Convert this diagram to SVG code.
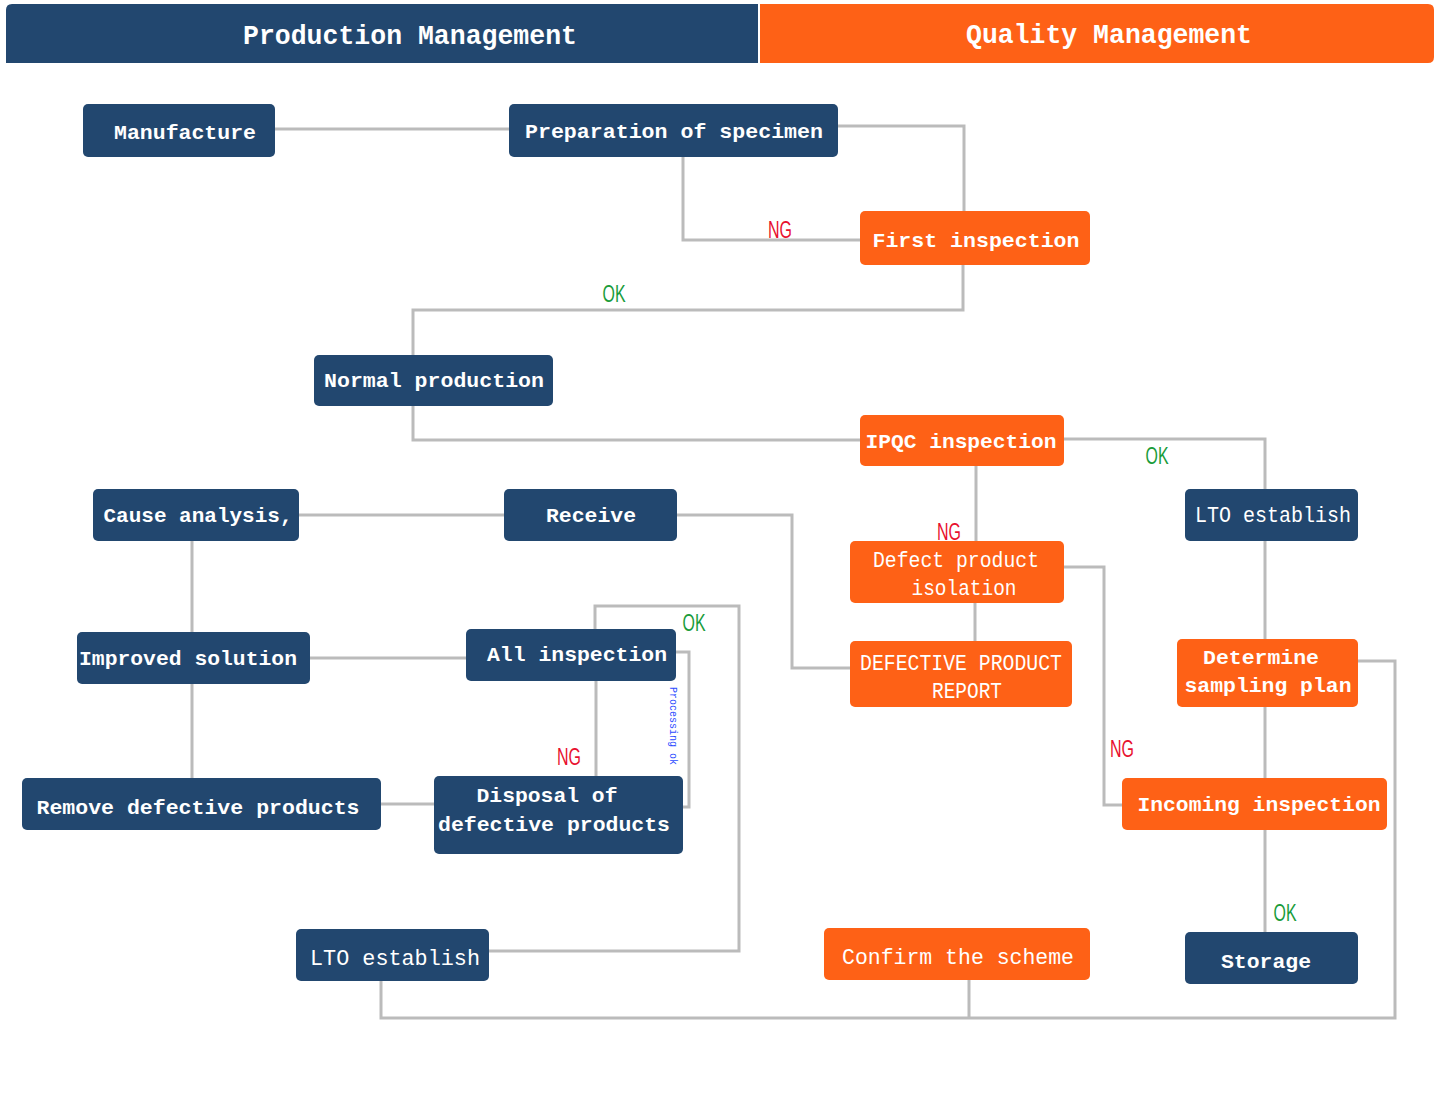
<svg xmlns="http://www.w3.org/2000/svg" width="1440" height="1113" viewBox="0 0 1440 1113">
<style>
.b{fill:#22476F}
.o{fill:#FE6116}
.t{font-family:"Liberation Mono","DejaVu Sans Mono",monospace;font-weight:bold;font-size:21px;fill:#fff;text-anchor:middle}
.n{font-family:"Liberation Mono","DejaVu Sans Mono",monospace;font-size:22px;fill:#fff;text-anchor:middle}
.h{font-family:"Liberation Mono","DejaVu Sans Mono",monospace;font-weight:bold;font-size:27px;fill:#fff;text-anchor:middle}
.c{fill:none;stroke:#BBBBBB;stroke-width:3}
.ng{font-family:"Liberation Sans",Arial,sans-serif;font-size:23px;fill:#E8102E;text-anchor:middle}
.ok{font-family:"Liberation Sans",Arial,sans-serif;font-size:23px;fill:#1A9C3A;text-anchor:middle}
</style>
<rect width="1440" height="1113" fill="#fff"/>
<g id="connectors">
<path class="c" d="M275 129H509"/>
<path class="c" d="M838 126H964V211"/>
<path class="c" d="M683 157V240H860"/>
<path class="c" d="M963 265V310H413V355"/>
<path class="c" d="M413 406V440H860"/>
<path class="c" d="M1064 439H1265V489"/>
<path class="c" d="M976 466V541"/>
<path class="c" d="M975 603V641"/>
<path class="c" d="M1064 567H1104V805H1122"/>
<path class="c" d="M1265 541V639M1265 707V778M1265 830V932"/>
<path class="c" d="M1358 661H1395V1018H381V981"/>
<path class="c" d="M969 980V1018"/>
<path class="c" d="M299 515H504"/>
<path class="c" d="M677 515H792V668H850"/>
<path class="c" d="M192 541V632M192 684V778"/>
<path class="c" d="M310 658H466"/>
<path class="c" d="M595 629V606H739V951H489"/>
<path class="c" d="M676 652H689V807H683"/>
<path class="c" d="M596 681V776"/>
<path class="c" d="M381 804H434"/>
<text class="ng" x="780" y="238" textLength="24" lengthAdjust="spacingAndGlyphs">NG</text>
<text class="ok" x="614" y="302" textLength="23" lengthAdjust="spacingAndGlyphs">OK</text>
<text class="ok" x="1157" y="464" textLength="23" lengthAdjust="spacingAndGlyphs">OK</text>
<text class="ng" x="949" y="540" textLength="24" lengthAdjust="spacingAndGlyphs">NG</text>
<text class="ng" x="1122" y="757" textLength="24" lengthAdjust="spacingAndGlyphs">NG</text>
<text class="ok" x="1285" y="921" textLength="23" lengthAdjust="spacingAndGlyphs">OK</text>
<text class="ok" x="694" y="631" textLength="23" lengthAdjust="spacingAndGlyphs">OK</text>
<text class="ng" x="569" y="765" textLength="24" lengthAdjust="spacingAndGlyphs">NG</text>
<text x="673" y="726" transform="rotate(90 673 726)" font-family="Liberation Mono,monospace" font-size="10" fill="#2B4BFF" text-anchor="middle" dominant-baseline="middle" textLength="78" lengthAdjust="spacingAndGlyphs">Processing ok</text>
</g>
<g id="header-production">
<path class="b" d="M12 4H758V63H6V10Q6 4 12 4Z"/>
<text class="h" x="410" y="44" textLength="334" lengthAdjust="spacingAndGlyphs">Production Management</text>
</g>
<g id="header-quality">
<path class="o" d="M760 4H1428Q1434 4 1434 10V57Q1434 63 1428 63H760Z"/>
<text class="h" x="1109" y="43" textLength="286" lengthAdjust="spacingAndGlyphs">Quality Management</text>
</g>
<g id="manufacture"><rect class="b" x="83" y="104" width="192" height="53" rx="5"/><text class="t" x="185" y="139" textLength="142" lengthAdjust="spacingAndGlyphs">Manufacture</text></g>
<g id="preparation"><rect class="b" x="509" y="104" width="329" height="53" rx="5"/><text class="t" x="674" y="138" textLength="298" lengthAdjust="spacingAndGlyphs">Preparation of specimen</text></g>
<g id="first-inspection"><rect class="o" x="860" y="211" width="230" height="54" rx="5"/><text class="t" x="976" y="247" textLength="207" lengthAdjust="spacingAndGlyphs">First inspection</text></g>
<g id="normal-production"><rect class="b" x="314" y="355" width="239" height="51" rx="5"/><text class="t" x="434" y="387" textLength="220" lengthAdjust="spacingAndGlyphs">Normal production</text></g>
<g id="ipqc"><rect class="o" x="860" y="415" width="204" height="51" rx="5"/><text class="t" x="961" y="448" textLength="191" lengthAdjust="spacingAndGlyphs">IPQC inspection</text></g>
<g id="cause-analysis"><rect class="b" x="93" y="489" width="206" height="52" rx="5"/><text class="t" x="198" y="522" textLength="189" lengthAdjust="spacingAndGlyphs">Cause analysis,</text></g>
<g id="receive"><rect class="b" x="504" y="489" width="173" height="52" rx="5"/><text class="t" x="591" y="522" textLength="90" lengthAdjust="spacingAndGlyphs">Receive</text></g>
<g id="lto-right"><rect class="b" x="1185" y="489" width="173" height="52" rx="5"/><text class="n" x="1273" y="522" textLength="156" lengthAdjust="spacingAndGlyphs">LTO establish</text></g>
<g id="defect-isolation"><rect class="o" x="850" y="541" width="214" height="62" rx="5"/><text class="n" x="956" y="567" textLength="166" lengthAdjust="spacingAndGlyphs">Defect product</text><text class="n" x="964" y="595" textLength="105" lengthAdjust="spacingAndGlyphs">isolation</text></g>
<g id="defective-report"><rect class="o" x="850" y="641" width="222" height="66" rx="5"/><text class="n" x="961" y="670" textLength="202" lengthAdjust="spacingAndGlyphs">DEFECTIVE PRODUCT</text><text class="n" x="967" y="698" textLength="70" lengthAdjust="spacingAndGlyphs">REPORT</text></g>
<g id="improved-solution"><rect class="b" x="77" y="632" width="233" height="52" rx="5"/><text class="t" x="188" y="665" textLength="218" lengthAdjust="spacingAndGlyphs">Improved solution</text></g>
<g id="all-inspection"><rect class="b" x="466" y="629" width="210" height="52" rx="5"/><text class="t" x="577" y="661" textLength="180" lengthAdjust="spacingAndGlyphs">All inspection</text></g>
<g id="determine-sampling"><rect class="o" x="1177" y="639" width="181" height="68" rx="5"/><text class="t" x="1261" y="664" textLength="116" lengthAdjust="spacingAndGlyphs">Determine</text><text class="t" x="1268" y="692" textLength="167" lengthAdjust="spacingAndGlyphs">sampling plan</text></g>
<g id="remove-defective"><rect class="b" x="22" y="778" width="359" height="52" rx="5"/><text class="t" x="198" y="814" textLength="323" lengthAdjust="spacingAndGlyphs">Remove defective products</text></g>
<g id="disposal"><rect class="b" x="434" y="776" width="249" height="78" rx="5"/><text class="t" x="547" y="802" textLength="141" lengthAdjust="spacingAndGlyphs">Disposal of</text><text class="t" x="554" y="831" textLength="232" lengthAdjust="spacingAndGlyphs">defective products</text></g>
<g id="incoming-inspection"><rect class="o" x="1122" y="778" width="265" height="52" rx="5"/><text class="t" x="1259" y="811" textLength="243" lengthAdjust="spacingAndGlyphs">Incoming inspection</text></g>
<g id="lto-bottom"><rect class="b" x="296" y="929" width="193" height="52" rx="5"/><text class="n" x="395" y="965" textLength="170" lengthAdjust="spacingAndGlyphs">LTO establish</text></g>
<g id="confirm-scheme"><rect class="o" x="824" y="928" width="266" height="52" rx="5"/><text class="n" x="958" y="964" textLength="232" lengthAdjust="spacingAndGlyphs">Confirm the scheme</text></g>
<g id="storage"><rect class="b" x="1185" y="932" width="173" height="52" rx="5"/><text class="t" x="1266" y="968" textLength="90" lengthAdjust="spacingAndGlyphs">Storage</text></g>
</svg>
